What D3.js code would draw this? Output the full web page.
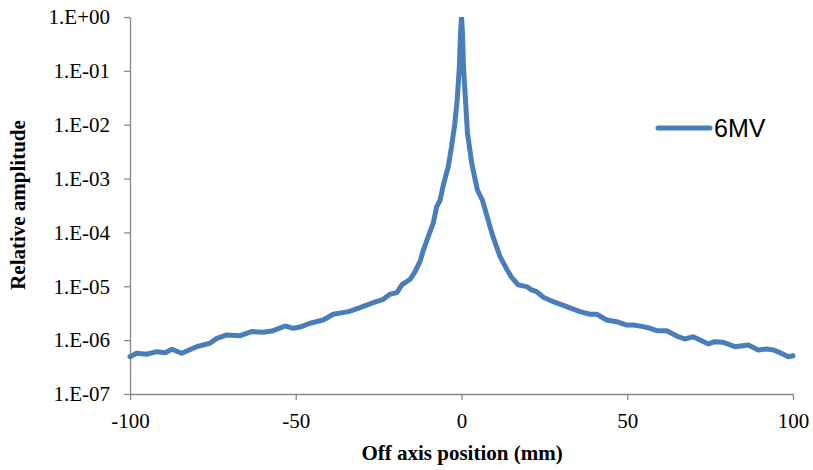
<!DOCTYPE html>
<html>
<head>
<meta charset="utf-8">
<script src="https://cdn.jsdelivr.net/npm/d3@7"></script>
<style>
  html, body { margin: 0; padding: 0; background: #ffffff; }
  #chart { width: 813px; height: 470px; }
  .axis text { font-family: "Liberation Serif", "Times New Roman", serif; font-size: 21px; fill: #000; }
  .axis path, .axis line { stroke: #898989; stroke-width: 1.3px; }
  .title { font-family: "Liberation Serif", "Times New Roman", serif; font-size: 21px; font-weight: bold; fill: #000; }
  .legend-text { font-family: "Liberation Sans", Arial, sans-serif; font-size: 25px; fill: #000; }
</style>
</head>
<body>
<div id="chart"></div>
<script>
// off axis profile (position in mm, relative amplitude)
const positionMm = [
  -100, -98.0, -95.0, -91.9, -89.4, -87.4, -84.4, -79.9, -75.9, -73.8,
  -70.8, -66.8, -63.3, -59.8, -56.8, -53.2, -50.7, -48.7, -45.7, -41.7,
  -38.7, -34.1, -30.6, -26.6, -23.6, -21.6, -19.5, -18.0, -15.5, -14.0,
  -12.5, -11.5, -10.0, -8.5, -7.5, -6.5, -5.5, -4.0, -3.0, -2.0,
  -1.3, -0.65, -0.3, 0, 0.3, 0.6, 1.2, 1.8, 3.1, 4.8,
  6.3, 7.8, 8.6, 9.6, 11.6, 13.6, 15.0, 17.1, 19.67, 21.18,
  22.68, 24.68, 27.69, 31.73, 35.75, 38.76, 40.78, 43.80, 46.82, 49.83,
  51.83, 54.84, 56.86, 58.88, 61.90, 65.40, 67.42, 69.92, 74.45, 76.47,
  78.97, 82.5, 86.5, 89.5, 92.1, 94.1, 96.1, 98.6, 100
];
const amplitude6MV = [
  4.93e-7, 5.70e-7, 5.47e-7, 6.11e-7, 5.85e-7, 6.76e-7, 5.70e-7, 7.56e-7, 8.75e-7, 1.08e-6,
  1.25e-6, 1.21e-6, 1.44e-6, 1.40e-6, 1.50e-6, 1.83e-6, 1.66e-6, 1.75e-6, 2.06e-6, 2.37e-6,
  3.02e-6, 3.38e-6, 4.01e-6, 4.96e-6, 5.74e-6, 7.10e-6, 7.61e-6, 1.06e-5, 1.35e-5, 1.87e-5,
  2.9e-5, 4.7e-5, 8.5e-5, 1.5e-4, 3.0e-4, 3.9e-4, 7.5e-4, 1.66e-3, 3.91e-3, 1.06e-2,
  2.88e-2, 0.119, 0.5, 1.0, 0.5, 0.119, 2.88e-2, 7.0e-3, 1.9e-3, 6.1e-4,
  4.0e-4, 1.9e-4, 1.28e-4, 8.0e-5, 3.6e-5, 2.1e-5, 1.5e-5, 1.06e-5, 9.84e-6, 8.54e-6,
  7.94e-6, 6.25e-6, 5.18e-6, 4.18e-6, 3.38e-6, 3.02e-6, 3.02e-6, 2.37e-6, 2.20e-6, 1.91e-6,
  1.91e-6, 1.78e-6, 1.66e-6, 1.50e-6, 1.50e-6, 1.16e-6, 1.05e-6, 1.16e-6, 8.49e-7, 9.36e-7,
  9.12e-7, 7.56e-7, 8.13e-7, 6.56e-7, 6.86e-7, 6.56e-7, 5.85e-7, 4.93e-7, 5.14e-7
];
const seriesName = '6MV';

const xTicks = [-100, -50, 0, 50, 100];
const yTicks = [1e-7, 1e-6, 1e-5, 1e-4, 1e-3, 1e-2, 1e-1, 1];
const yTickLabels = ['1.E-07', '1.E-06', '1.E-05', '1.E-04', '1.E-03', '1.E-02', '1.E-01', '1.E+00'];

const xTitle = 'Off axis position (mm)';
const yTitle = 'Relative amplitude';

(function () {
  var w = 813, h = 470;
  var margin = { top: 17, right: 20, bottom: 76, left: 130 };
  var lineColor = '#4A7EBB';

  var svg = d3.select('#chart').append('svg')
    .attr('width', w)
    .attr('height', h);

  var x = d3.scaleLinear()
    .domain([-100, 100])
    .range([margin.left, 793]);

  var y = d3.scaleLog()
    .domain([1e-7, 1])
    .range([h - margin.bottom, margin.top]);

  // plot area clip, so the peak gets cut flat at the top like excel does
  svg.append('clipPath')
    .attr('id', 'plot-clip')
    .append('rect')
    .attr('x', margin.left - 6)
    .attr('y', margin.top)
    .attr('width', 793 - margin.left + 12)
    .attr('height', h - margin.bottom - margin.top + 6);

  // y axis, ticks pointing out to the left
  svg.append('g')
    .attr('class', 'axis y')
    .attr('transform', 'translate(' + margin.left + ',0)')
    .call(d3.axisLeft(y)
      .tickValues(yTicks)
      .tickFormat(function (d, i) { return yTickLabels[i]; })
      .tickSize(6)
      .tickSizeOuter(0)
      .tickPadding(14));

  // x axis at the bottom of the plot
  svg.append('g')
    .attr('class', 'axis x')
    .attr('transform', 'translate(0,' + (h - margin.bottom) + ')')
    .call(d3.axisBottom(x)
      .tickValues(xTicks)
      .tickFormat(function (d) { return d; })
      .tickSize(6)
      .tickSizeOuter(0)
      .tickPadding(13));

  var points = positionMm.map(function (p, i) { return { x: p, v: amplitude6MV[i] }; });

  var line = d3.line()
    .x(function (d) { return x(d.x); })
    .y(function (d) { return y(d.v); });

  svg.append('path')
    .datum(points)
    .attr('clip-path', 'url(#plot-clip)')
    .attr('d', line)
    .attr('fill', 'none')
    .attr('stroke', lineColor)
    .attr('stroke-width', 5)
    .attr('stroke-linejoin', 'round')
    .attr('stroke-linecap', 'round');

  // legend
  var legend = svg.append('g').attr('class', 'legend');
  legend.append('line')
    .attr('x1', 658).attr('x2', 710)
    .attr('y1', 128).attr('y2', 128)
    .attr('stroke', lineColor)
    .attr('stroke-width', 5)
    .attr('stroke-linecap', 'round');
  legend.append('text')
    .attr('class', 'legend-text')
    .attr('x', 714)
    .attr('y', 137)
    .text(seriesName);

  // axis titles
  svg.append('text')
    .attr('class', 'title')
    .attr('x', 462)
    .attr('y', 460)
    .style('text-anchor', 'middle')
    .text(xTitle);

  svg.append('text')
    .attr('class', 'title')
    .attr('transform', 'translate(25,205) rotate(-90)')
    .style('text-anchor', 'middle')
    .text(yTitle);
})();
</script>
</body>
</html>
